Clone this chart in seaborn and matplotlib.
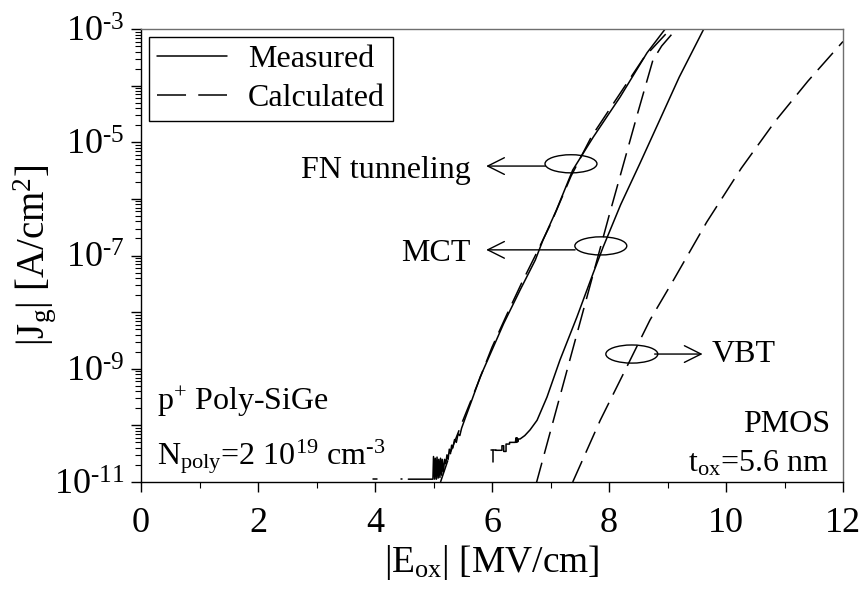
import numpy as np
import pandas as pd
import matplotlib
matplotlib.use("Agg")
import matplotlib.pyplot as plt
from matplotlib.patches import Ellipse
from matplotlib.lines import Line2D
from matplotlib.ticker import LogLocator, FuncFormatter, MultipleLocator, NullFormatter
import seaborn as sns

# ---- gate current data: |E_ox| in MV/cm, log10 |J_g| in A/cm^2 ----
nan = np.nan

# measured, FN tunneling regime (p+ poly-SiGe gate)
fn_meas_E = [3.97, 4.03, nan, 4.44, 4.47, nan, 4.57, 4.99, 5.00, 5.02, 5.03, 5.05, 5.06,
             5.08, 5.09, 5.11, 5.12, 5.14, 5.15, 5.17, 5.19, 5.21, 5.23, 5.25, 5.27,
             5.29, 5.31, 5.33, 5.36, 5.39, 5.42, 5.45, 5.48, 5.55, 5.65, 5.80, 6.00,
             6.20, 6.48, 6.74, 6.87, 7.10, 7.38, 7.73, 8.19, 8.65, 8.96]
fn_meas_logJ = [-10.95, -10.95, nan, -10.95, -10.95, nan, -10.95, -10.95, -10.55, -10.95,
                -10.58, -10.95, -10.56, -10.93, -10.60, -10.92, -10.58, -10.88, -10.60,
                -10.82, -10.60, -10.68, -10.52, -10.60, -10.42, -10.50, -10.35, -10.40,
                -10.25, -10.30, -10.15, -10.18, -10.05, -9.85, -9.57, -9.14, -8.67, -8.20,
                -7.61, -7.08, -6.73, -6.20, -5.49, -4.91, -4.20, -3.42, -3.00]

# measured, MCT regime
mct_meas_E = [5.99, 6.06, nan, 6.025, 6.025, nan, 6.06, 6.17, 6.17, 6.20, 6.20, 6.24,
              6.24, 6.30, 6.30, 6.40, 6.41, 6.42, 6.43, 6.44, 6.45, 6.48, 6.56, 6.65,
              6.77, 6.94, 7.16, 7.45, 7.73, 7.90, 8.20, 8.53, 8.87, 9.20, 9.62]
mct_meas_logJ = [-10.44, -10.44, nan, -10.44, -10.65, nan, -10.44, -10.44, -10.36, -10.36,
                 -10.46, -10.46, -10.33, -10.33, -10.30, -10.30, -10.22, -10.30, -10.22,
                 -10.29, -10.24, -10.24, -10.18, -10.08, -9.91, -9.50, -8.85, -8.09,
                 -7.31, -6.85, -6.10, -5.37, -4.60, -3.85, -3.00]

# calculated curves
fn_calc_E = [5.12, 5.30, 5.50, 5.75, 6.00, 6.25, 6.50, 6.75, 7.00, 7.35, 7.70, 8.20, 8.60, 9.05]
fn_calc_logJ = [-11.0, -10.45, -9.92, -9.28, -8.62, -8.05, -7.50, -6.98, -6.45, -5.60,
                -4.90, -4.12, -3.50, -3.00]

mct_calc_E = [6.75, 7.00, 7.50, 8.00, 8.50, 8.75, 8.90, 9.15]
mct_calc_logJ = [-11.05, -10.10, -8.20, -6.30, -4.45, -3.55, -3.30, -3.00]

vbt_calc_E = [7.38, 7.85, 8.24, 8.70, 9.11, 9.67, 10.26, 10.84, 11.40, 12.00]
vbt_calc_logJ = [-11.0, -9.91, -9.10, -8.14, -7.42, -6.41, -5.46, -4.63, -3.92, -3.22]

x_ticks = [0, 2, 4, 6, 8, 10, 12]


def segments(name, E, logJ):
    """Split a curve at NaN gaps into separately drawn units."""
    rows, seg = [], 0
    for e, lj in zip(E, logJ):
        if np.isnan(e):
            seg += 1
            continue
        rows.append({"curve": name, "unit": f"{name}-{seg}", "E": e, "J": 10.0 ** lj})
    return rows


measured = pd.DataFrame(segments("FN", fn_meas_E, fn_meas_logJ)
                        + segments("MCT", mct_meas_E, mct_meas_logJ))
calculated = pd.DataFrame(segments("FN", fn_calc_E, fn_calc_logJ)
                          + segments("MCT", mct_calc_E, mct_calc_logJ)
                          + segments("VBT", vbt_calc_E, vbt_calc_logJ))

# ---- style ----
sns.set_theme(style="ticks")
plt.rcParams["font.family"] = ["Liberation Serif", "DejaVu Serif"]
plt.rcParams["mathtext.fontset"] = "custom"
plt.rcParams["mathtext.rm"] = "Liberation Serif"
plt.rcParams["mathtext.it"] = "Liberation Serif:italic"
plt.rcParams["mathtext.bf"] = "Liberation Serif:bold"
for key in ["text.color", "axes.labelcolor", "xtick.color", "ytick.color",
            "xtick.labelcolor", "ytick.labelcolor"]:
    plt.rcParams[key] = "black"

HY = "\u2010"  # short hyphen used in exponents

fig = plt.figure(figsize=(8.64, 5.95), dpi=100)
ax = fig.add_axes([0.1632, 0.1899, 0.8125, 0.7613])

DASH = (15, 6)
sns.lineplot(data=measured, x="E", y="J", units="unit", estimator=None, sort=False,
             color="black", lw=1.1, ax=ax, legend=False)
n_solid = len(ax.lines)
sns.lineplot(data=calculated, x="E", y="J", units="unit", estimator=None, sort=False,
             color="black", lw=1.1, ax=ax, legend=False)
for ln in ax.lines[n_solid:]:
    ln.set_dashes(DASH)

ax.set_yscale("log")
ax.set_xlim(0, 12)
ax.set_ylim(1e-11, 1e-3)

# ticks
ax.set_xticks(x_ticks)
ax.xaxis.set_minor_locator(MultipleLocator(1))
ax.yaxis.set_major_locator(LogLocator(base=10, numticks=20))
ax.yaxis.set_minor_locator(LogLocator(base=10, subs=np.arange(2, 10), numticks=100))
ax.yaxis.set_minor_formatter(NullFormatter())


def odd_decades(v, pos):
    e = int(round(np.log10(v)))
    if e % 2 == 0:
        return ""
    s = str(e).replace("-", HY)
    return r"$\mathregular{10^{%s}}$" % s


ax.yaxis.set_major_formatter(FuncFormatter(odd_decades))
ax.tick_params(axis="both", which="major", direction="out", length=7, width=1,
               labelsize=26, color="black", labelcolor="black", pad=5)
ax.tick_params(axis="both", which="minor", direction="out", length=4, width=0.8,
               color="black")
ax.tick_params(axis="x", which="major", pad=11)

for side in ["left", "bottom"]:
    ax.spines[side].set_color("black")
    ax.spines[side].set_linewidth(1.0)
for side in ["top", "right"]:
    ax.spines[side].set_color("#6e6e6e")
    ax.spines[side].set_linewidth(1.0)

ax.set_xlabel(r"$\mathregular{|E_{ox}|}$ [MV/cm]", fontsize=27, color="black", labelpad=2)
ax.set_ylabel(r"$\mathregular{|J_g|}$ [A/cm$^\mathregular{2}$]", fontsize=28,
              color="black", labelpad=-3)

# legend
h_meas = Line2D([], [], color="black", lw=1.1)
h_calc = Line2D([], [], color="black", lw=1.1, dashes=(19, 8))
leg = ax.legend([h_meas, h_calc], ["Measured", "Calculated"], loc="upper left",
                fontsize=23, frameon=True, fancybox=False, framealpha=1,
                edgecolor="black", handlelength=2.2, handletextpad=0.65,
                borderpad=0.25, labelspacing=0.3, borderaxespad=0.25)
leg.get_frame().set_linewidth(1.0)
for t in leg.get_texts():
    t.set_color("black")


# regime markers: ellipse on the curve plus an arrow to the label
def ax_frac(x, logj):
    disp = ax.transData.transform((x, 10.0 ** logj))
    return ax.transAxes.inverted().transform(disp)


ew, eh = 0.074, 0.040
for (cx, cl) in [(7.35, -5.38), (7.86, -6.83), (8.39, -8.74)]:
    fx, fy = ax_frac(cx, cl)
    ax.add_patch(Ellipse((fx, fy), ew, eh, transform=ax.transAxes, fill=False,
                         edgecolor="black", lw=1.0, zorder=5))

arrow = dict(arrowstyle="->,head_length=0.6,head_width=0.3", color="black", lw=1.0,
             shrinkA=0, shrinkB=0, mutation_scale=20)
for (x0, x1, lj) in [(6.91, 5.90, -5.42), (7.42, 5.90, -6.90), (8.78, 9.60, -8.74)]:
    ax.annotate("", xy=ax_frac(x1, lj), xytext=ax_frac(x0, lj),
                xycoords="axes fraction", textcoords="axes fraction", arrowprops=arrow)

txt = dict(fontsize=23, color="black")
ax.text(*ax_frac(5.64, -5.50), "FN tunneling", ha="right", va="center",
        transform=ax.transAxes, **txt)
ax.text(*ax_frac(5.64, -6.96), "MCT", ha="right", va="center", transform=ax.transAxes, **txt)
ax.text(*ax_frac(9.76, -8.74), "VBT", ha="left", va="center", transform=ax.transAxes, **txt)
ax.text(*ax_frac(0.27, -9.58), r"p$^\mathregular{+}$ Poly-SiGe", ha="left", va="center",
        transform=ax.transAxes, **txt)
ax.text(*ax_frac(0.27, -10.55),
        r"N$_\mathregular{poly}$=2 10$^\mathregular{19}$ cm$^\mathregular{%s3}$" % HY,
        ha="left", va="center", transform=ax.transAxes, **txt)
ax.text(*ax_frac(11.78, -9.98), "PMOS", ha="right", va="center", transform=ax.transAxes, **txt)
ax.text(*ax_frac(11.76, -10.68), r"t$_\mathregular{ox}$=5.6 nm", ha="right", va="center",
        transform=ax.transAxes, **txt)

fig.savefig("out.png", dpi=100, facecolor="white")
